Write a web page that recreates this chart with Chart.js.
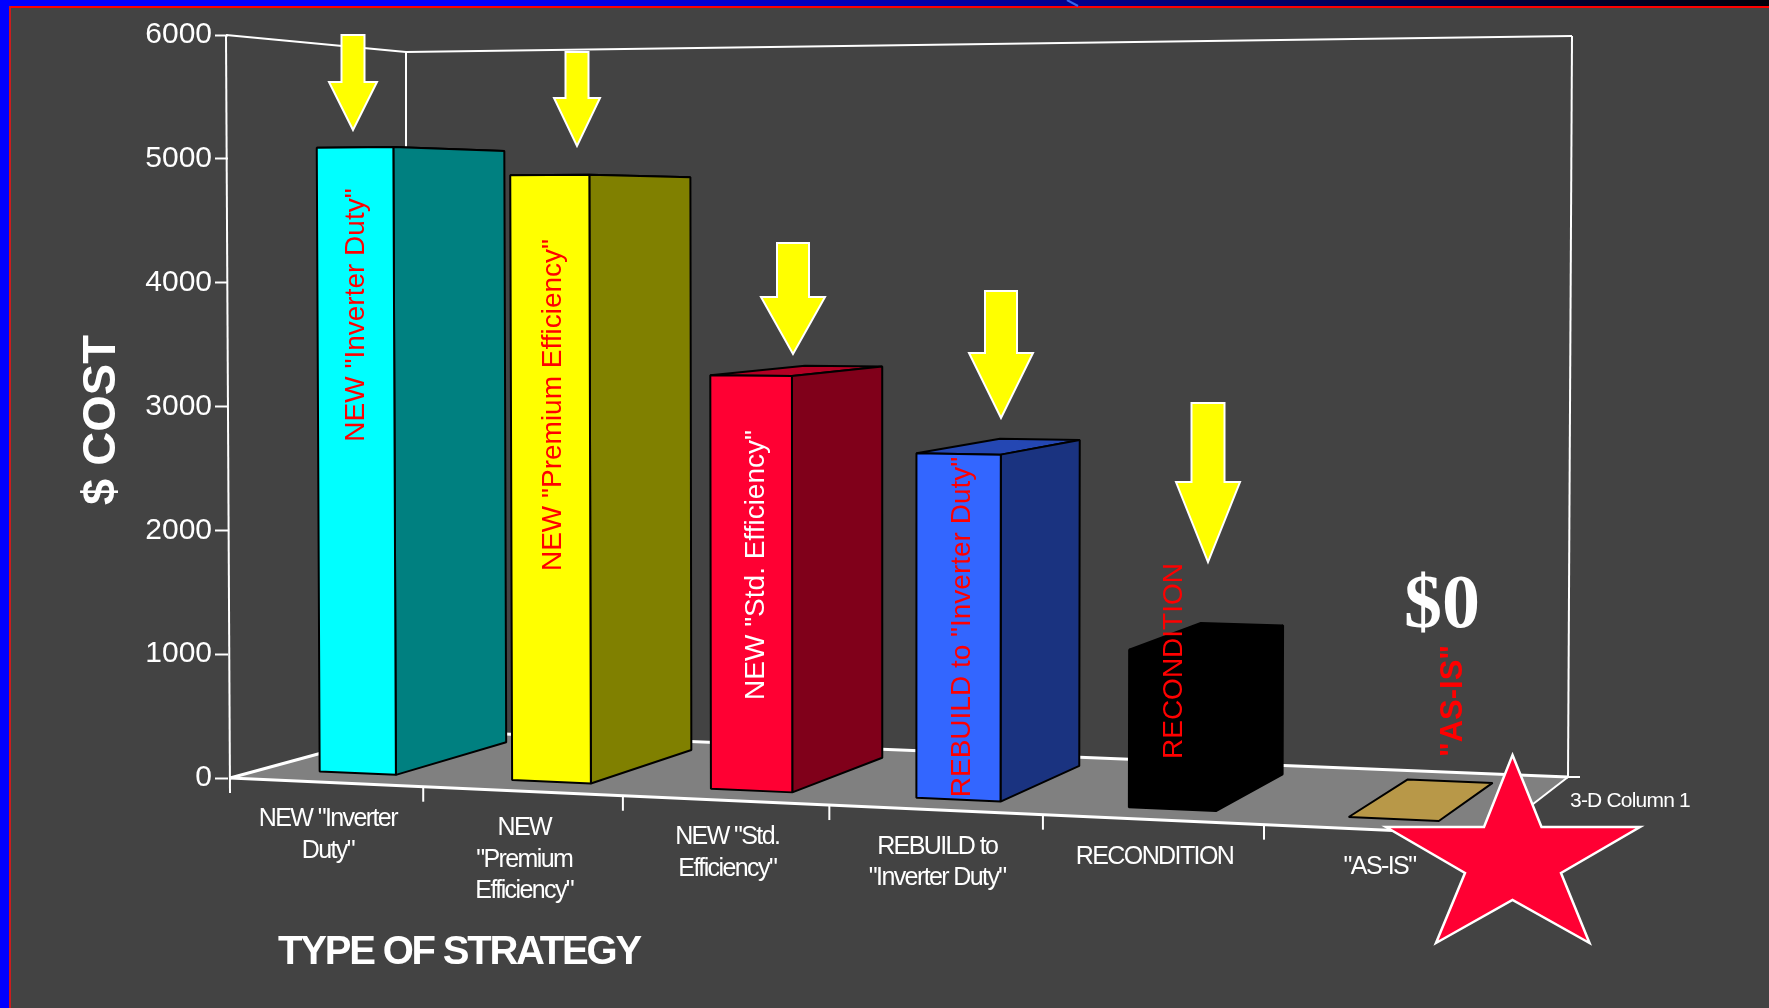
<!DOCTYPE html>
<html>
<head>
<meta charset="utf-8">
<style>
  html, body { margin: 0; padding: 0; background: #434343; overflow: hidden; }
  canvas { display: block; }
</style>
<script src="https://cdn.jsdelivr.net/npm/chart.js@4/dist/chart.umd.min.js"></script>
</head>
<body>
<canvas id="chart" width="1769" height="1008"></canvas>
<script>
// Repair-or-replace cost of a motor, by strategy.
const categories = [
  ['NEW "Inverter', 'Duty"'],
  ['NEW', '"Premium', 'Efficiency"'],
  ['NEW "Std.', 'Efficiency"'],
  ['REBUILD to', '"Inverter Duty"'],
  ['RECONDITION'],
  ['"AS-IS"']
];
const costValues = [5095, 4860, 3270, 2680, 1205, 0];
const yTicks = [0, 1000, 2000, 3000, 4000, 5000, 6000];
const seriesName = '3-D Column 1';
const xTitle = 'TYPE OF STRATEGY';
const yTitle = '$ COST';

const faceColors = ['#00FFFF', '#FFFF00', '#FF0033', '#3366FF', '#000000', '#B89848'];
const captionColors = ['#FF0000', '#FF0000', '#FFFFFF', '#FF0000', '#FF0000', '#FF0000'];

// Screen corners of the floor: front-left, front-right, back-right, back-left.
const FLOOR = [[230, 778], [1493, 835], [1568, 777], [406, 730]];
// Top corners of the back walls: left wall front, back corner, right wall.
const WALL_TOP = [[226, 35], [406, 52], [1572, 36]];
const FULL_HEIGHT = 743;   // pixels spanned by the whole value range at the front-left corner
const LEAN = 0.006;        // verticals converge slightly towards the floor
const LEAN_AXIS = 899;
const BAR_DEPTH = [0.175, 0.84];

// Unit square to quadrilateral homography; also returns the depth divisor.
function quadMap(q) {
  const [[x0, y0], [x1, y1], [x2, y2], [x3, y3]] = q;
  const dx1 = x1 - x2, dx2 = x3 - x2, sx = x0 - x1 + x2 - x3;
  const dy1 = y1 - y2, dy2 = y3 - y2, sy = y0 - y1 + y2 - y3;
  const det = dx1 * dy2 - dx2 * dy1;
  const g = (sx * dy2 - dx2 * sy) / det;
  const h = (dx1 * sy - sx * dy1) / det;
  const a = x1 - x0 + g * x1, b = x3 - x0 + h * x3, c = x0;
  const d = y1 - y0 + g * y1, e = y3 - y0 + h * y3, f = y0;
  return (u, v) => {
    const w = g * u + h * v + 1;
    return [(a * u + b * v + c) / w, (d * u + e * v + f) / w, w];
  };
}
const floorAt = quadMap(FLOOR);

// along: 0..1 across the categories, depth: 0..1 front to back, lift: 0..1 floor to ceiling.
function project(along, depth, lift) {
  const [x, y, w] = floorAt(along, depth);
  const rise = lift * FULL_HEIGHT / w;
  return [x + (x - LEAN_AXIS) * LEAN * rise / FULL_HEIGHT, y - rise];
}

function shade(hex, k) {
  const n = parseInt(hex.slice(1), 16);
  const c = [n >> 16, (n >> 8) & 255, n & 255].map(v => Math.round(v * k));
  return `rgb(${c[0]},${c[1]},${c[2]})`;
}

function poly(ctx, pts, fill, stroke, lw, join) {
  ctx.beginPath();
  pts.forEach((p, i) => i ? ctx.lineTo(p[0], p[1]) : ctx.moveTo(p[0], p[1]));
  ctx.closePath();
  if (fill) { ctx.fillStyle = fill; ctx.fill(); }
  if (stroke) { ctx.strokeStyle = stroke; ctx.lineWidth = lw; ctx.lineJoin = join || 'miter'; ctx.stroke(); }
}

function line(ctx, a, b, lw) {
  ctx.beginPath();
  ctx.moveTo(a[0], a[1]);
  ctx.lineTo(b[0], b[1]);
  ctx.strokeStyle = '#FFFFFF';
  ctx.lineWidth = lw;
  ctx.stroke();
}

function text(ctx, str, x, y, font, color, spacing, angle, align) {
  ctx.save();
  ctx.translate(x, y);
  if (angle) ctx.rotate(angle);
  ctx.font = font;
  ctx.fillStyle = color;
  ctx.letterSpacing = (spacing || 0) + 'px';
  ctx.textAlign = align || 'center';
  ctx.textBaseline = 'middle';
  ctx.fillText(str, 0, 0);
  ctx.restore();
}

// Slide frame: dark panel with a blue band fading along the top and a thin red rule.
const slideFrame = {
  id: 'slideFrame',
  beforeDraw(chart) {
    const { ctx, width, height } = chart;
    ctx.save();
    ctx.fillStyle = '#434343';
    ctx.fillRect(0, 0, width, height);
    const band = ctx.createLinearGradient(465, 0, width, 0);
    band.addColorStop(0, '#0000FF');
    band.addColorStop(1, '#00000A');
    ctx.fillStyle = band;
    ctx.fillRect(0, 0, width, 6);
    ctx.fillStyle = '#0000FF';
    ctx.fillRect(0, 0, 9, height);
    ctx.fillStyle = '#FF0000';
    ctx.fillRect(9, 6, width - 9, 2);
    ctx.fillStyle = '#CC1C1C';
    ctx.fillRect(9, 6, 2, height - 6);
    ctx.strokeStyle = '#3366EE';
    ctx.lineWidth = 2;
    ctx.beginPath();
    ctx.moveTo(1067, 0);
    ctx.lineTo(1078, 6);
    ctx.stroke();
    ctx.restore();
  }
};

// Box walls, floor, and the bars with their side and top faces, projected from the bar elements.
const perspectiveBars = {
  id: 'perspectiveBars',
  beforeDatasetsDraw(chart) {
    const { ctx, scales: { x, y } } = chart;
    const n = x.getLabels().length;
    const span = x.right - x.left;
    const zero = y.getPixelForValue(0);
    const full = y.getPixelForValue(6000);
    const lift = py => (zero - py) / (zero - full);
    const along = px => (px - x.left) / span;

    ctx.save();
    const F = FLOOR;
    poly(ctx, F, '#808080');
    line(ctx, WALL_TOP[0], WALL_TOP[1], 2);
    line(ctx, WALL_TOP[1], WALL_TOP[2], 2);
    line(ctx, WALL_TOP[0], [F[0][0], F[0][1] + 15], 2);
    line(ctx, WALL_TOP[1], F[3], 2);
    line(ctx, WALL_TOP[2], F[2], 2);
    line(ctx, F[2], [F[2][0] + 12, F[2][1]], 2);
    // floor edges and the category ticks along the front
    line(ctx, F[0], F[1], 3);
    line(ctx, F[1], F[2], 2);
    line(ctx, F[2], F[3], 3);
    line(ctx, F[3], F[0], 3);
    for (let i = 1; i < n; i++) {
      const p = floorAt(i / n, 0);
      line(ctx, p, [p[0], p[1] + 15], 2);
    }

    const [d0, d1] = BAR_DEPTH;
    chart.getDatasetMeta(0).data.forEach((bar, i) => {
      const u0 = along(bar.x - bar.width / 2);
      const u1 = along(bar.x + bar.width / 2);
      const t = lift(bar.y);
      const color = faceColors[i];
      const P = project;
      if (t > 0) {
        poly(ctx, [P(u0, d0, t), P(u1, d0, t), P(u1, d1, t), P(u0, d1, t)], shade(color, 0.7), '#000', 2, 'bevel');
        poly(ctx, [P(u1, d0, 0), P(u1, d1, 0), P(u1, d1, t), P(u1, d0, t)], shade(color, 0.5), '#000', 2, 'bevel');
        poly(ctx, [P(u0, d0, 0), P(u1, d0, 0), P(u1, d0, t), P(u0, d0, t)], color, '#000', 2, 'bevel');
      } else {
        poly(ctx, [P(u0, d0, 0), P(u1, d0, 0), P(u1, d1, 0), P(u0, d1, 0)], color, '#000', 2, 'bevel');
      }
    });
    ctx.restore();
    return false;
  }
};

// Category labels, series name, axis titles, captions and call-outs.
const CAPTION_SPOTS = [[356, 315], [553, 405], [756, 565], [962, 627], [1174, 661], [1453, 701]];
// centre x, tip y, top y, neck y, half head width, shaft width
const ARROWS = [
  [353, 130, 35, 82, 24, 23],
  [577, 146, 52, 98, 23, 23],
  [793, 354, 243, 297, 32, 32],
  [1001, 418, 291, 353, 32, 32],
  [1208, 562, 403, 482, 32, 33]
];
const STAR = [[1512.5, 755], [1541.5, 827], [1640, 827], [1561, 873], [1589.5, 943], [1512.5, 900],
              [1436, 943], [1465, 873], [1386, 827], [1484, 827]];

const annotations = {
  id: 'annotations',
  afterDraw(chart) {
    const { ctx, scales: { x } } = chart;
    const labels = x.getLabels();
    const n = labels.length;
    const SANS = '"Liberation Sans"';
    ctx.save();

    labels.forEach((lab, i) => {
      const p = floorAt((i + 0.5) / n, 0);
      lab.forEach((t, k) => text(ctx, t, p[0] + 2, p[1] + 37 + k * 31.5, `25px ${SANS}`, '#FFFFFF', -1.6));
      const s = CAPTION_SPOTS[i];
      const font = i === n - 1 ? `bold 31px ${SANS}` : `28px ${SANS}`;
      text(ctx, lab.join(' '), s[0], s[1], font, captionColors[i], 0, -Math.PI / 2);
    });

    text(ctx, seriesName, 1630, 801, `21px ${SANS}`, '#FFFFFF', -0.8);
    text(ctx, xTitle, 459, 953, `bold 40px ${SANS}`, '#FFFFFF', -2.2);
    text(ctx, yTitle, 102, 420, `bold 47px ${SANS}`, '#FFFFFF', 0, -Math.PI / 2);

    // the zero-cost call-out
    ctx.font = 'bold 76px "Liberation Serif"';
    ctx.fillStyle = '#FFFFFF';
    ctx.textAlign = 'center';
    ctx.textBaseline = 'alphabetic';
    ctx.fillText('$' + costValues[n - 1], 1442, 627);

    // arrows pointing at each priced bar
    ARROWS.forEach(([cx, tip, top, neck, head, shaft]) => {
      const hs = shaft / 2;
      poly(ctx, [[cx - hs, top], [cx + hs, top], [cx + hs, neck], [cx + head, neck], [cx, tip],
                 [cx - head, neck], [cx - hs, neck]], '#FFFF00', '#FFFFFF', 2);
    });

    poly(ctx, STAR, '#FF0033', '#FFFFFF', 2.5);
    ctx.restore();
  }
};

new Chart(document.getElementById('chart').getContext('2d'), {
  type: 'bar',
  data: {
    labels: categories,
    datasets: [{
      label: seriesName,
      data: costValues,
      backgroundColor: faceColors,
      categoryPercentage: 0.4,
      barPercentage: 1
    }]
  },
  options: {
    responsive: false,
    animation: false,
    layout: { padding: { left: 0, right: 276, top: 35, bottom: 230 } },
    plugins: { legend: { display: false }, tooltip: { enabled: false }, title: { display: false } },
    scales: {
      x: {
        grid: { display: false },
        border: { display: false },
        ticks: { display: false },
        afterFit(scale) { scale.height = 0; }
      },
      y: {
        min: 0,
        max: 6000,
        afterFit(scale) { scale.width = 228; },
        afterBuildTicks(scale) { scale.ticks = yTicks.map(value => ({ value })); },
        grid: { drawOnChartArea: false, drawTicks: true, tickLength: 13, tickColor: '#FFFFFF', tickWidth: 2 },
        border: { display: false },
        ticks: {
          color: '#FFFFFF',
          font: { family: 'Liberation Sans', size: 30 },
          padding: 3,
          callback: value => String(value)
        }
      }
    }
  },
  plugins: [slideFrame, perspectiveBars, annotations]
});
</script>
</body>
</html>
